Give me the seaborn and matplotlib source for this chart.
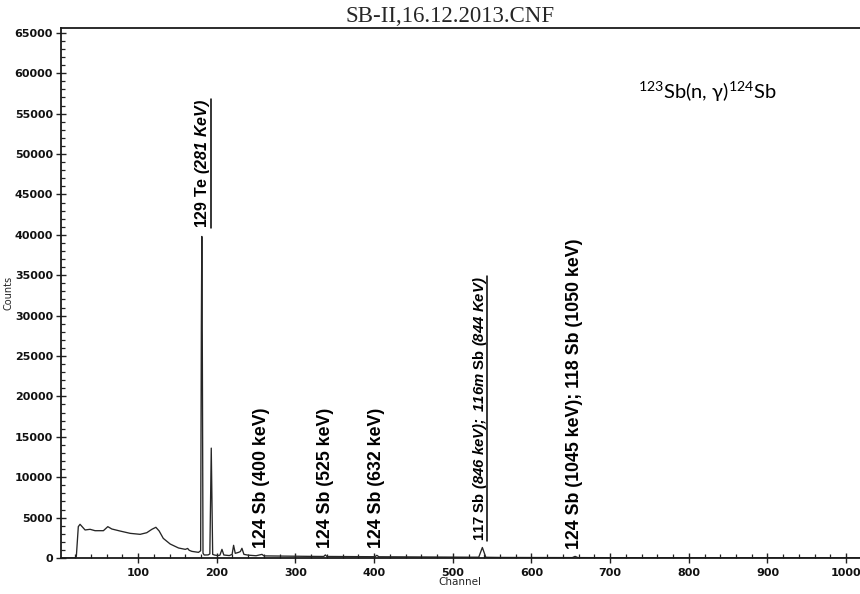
import numpy as np
import pandas as pd
import seaborn as sns
import matplotlib.pyplot as plt
from matplotlib.lines import Line2D
from matplotlib.ticker import MultipleLocator

# gamma spectrum
channel = [2, 20, 21.5, 24, 26.2, 29.6, 32.6, 39, 45.3, 55.9, 61.5, 66.6, 77, 90,
           102.6, 111, 117.5, 122.6, 126.8, 132, 140.8, 151.4, 160, 163, 165, 168.4,
           176.8, 179.5, 180.4, 181, 181.6, 182.5, 184, 189, 191.2, 193, 194.8, 197,
           201, 204, 206.6, 209, 216, 219.5, 221.4, 223.5, 227.8, 230, 232, 234.5,
           240, 250, 257.5, 260, 280, 300, 320, 336, 338, 340, 360, 380, 401, 403.5,
           406, 440, 480, 520, 533, 537.6, 542, 560, 600, 652, 655.5, 659, 700, 800,
           900, 1000, 1024]
counts = [0, 0, 200, 3880, 4170, 3800, 3470, 3550, 3380, 3380, 3880, 3590, 3340, 3050,
          2930, 3130, 3550, 3800, 3340, 2430, 1730, 1240, 1070, 1180, 950, 820,
          700, 900, 28500, 39800, 27500, 600, 370, 380, 500, 13600, 450, 370,
          300, 350, 1070, 370, 300, 450, 1570, 580, 700, 800, 1200, 450,
          350, 280, 450, 260, 240, 220, 200, 190, 380, 190, 180, 170, 160, 330,
          155, 140, 120, 100, 100, 1300, 90, 70, 60, 50, 200, 50, 40, 30,
          25, 20, 20]

# peak labels (text, channel of the label, counts at the foot of the label)
peak_labels = [r"129 Te $\mathit{(281\ KeV)}$",
               "124 Sb (400 keV)",
               "124 Sb (525 keV)",
               "124 Sb (632 keV)",
               r"117 Sb $\mathit{(846\ keV);\ 116m}$ Sb $\mathit{(844\ KeV)}$",
               "124 Sb (1045 keV); 118 Sb (1050 keV)"]
label_channel = [182, 257.5, 337.6, 403.3, 534.6, 655.3]
label_counts = [40900, 1240, 1200, 1200, 2140, 1080]
label_underlined = [True, False, False, False, True, False]
label_size = [11.5, 12.8, 12.8, 12.8, 10.7, 12.8]

df = pd.DataFrame({"Channel": channel, "Counts": counts})

sns.set_style("ticks")
plt.rcParams['font.family'] = ['DejaVu Sans']
plt.rcParams['mathtext.fontset'] = 'custom'
plt.rcParams['mathtext.it'] = 'Liberation Sans:italic:bold'
plt.rcParams['mathtext.rm'] = 'Liberation Sans:italic:bold'
plt.rcParams['mathtext.default'] = 'regular'

fig = plt.figure(figsize=(8.6, 5.94), dpi=100)
ax = fig.add_axes([61/860, 36/594, 804/860, 530/594])

sns.lineplot(data=df, x="Channel", y="Counts", ax=ax, color="#262626",
             linewidth=0.95, estimator=None)

ax.set_xlim(2, 1024)
ax.set_ylim(0, 65600)
ax.xaxis.set_major_locator(MultipleLocator(100))
ax.xaxis.set_minor_locator(MultipleLocator(20))
ax.yaxis.set_major_locator(MultipleLocator(5000))
ax.yaxis.set_minor_locator(MultipleLocator(1000))
ax.set_xticks([t for t in range(100, 1001, 100)])

ax.tick_params(which='major', direction='inout', length=6.5, width=1, color='#222222')
ax.tick_params(axis='y', which='major', pad=2.5)
ax.tick_params(axis='x', which='major', pad=4)
ax.tick_params(which='minor', direction='in', length=3, width=0.9, color='#222222')
for lab in ax.get_xticklabels() + ax.get_yticklabels():
    lab.set_fontsize(8)
    lab.set_fontweight('bold')
    lab.set_color('#111111')

for side in ['top', 'left', 'bottom']:
    ax.spines[side].set_linewidth(1.3)
    ax.spines[side].set_color('#1a1a1a')
ax.spines['right'].set_visible(False)

ax.set_xlabel("Channel", fontsize=7.5)
ax.set_ylabel("Counts", fontsize=7)
ax.xaxis.set_label_coords(0.4956, -0.036)
ax.yaxis.set_label_coords(-0.0585, 0.5)

fig.text(450.5/860, 0.9635, "SB-II,16.12.2013.CNF", family='Liberation Serif',
         fontsize=16.5, ha='center', va='baseline')

texts = []
for txt, ch, ct, ul, size in zip(peak_labels, label_channel, label_counts,
                                 label_underlined, label_size):
    t = ax.text(ch, ct, txt, rotation=90, ha='center', va='bottom',
                family='Liberation Sans', fontweight='bold', fontsize=size, color='black')
    texts.append((t, ul))

ax.text(736, 56800, r"$^{123}$Sb(n, γ)$^{124}$Sb", family=['Lato', 'DejaVu Sans'],
        fontsize=14.5, ha='left', va='baseline', color='black')

# underline the italic labels
fig.canvas.draw()
inv = fig.transFigure.inverted()
for t, ul in texts:
    if not ul:
        continue
    bb = t.get_window_extent()
    (x0, y0), (x1, y1) = inv.transform([(bb.x1 - 1.5, bb.y0), (bb.x1 - 1.5, bb.y1)])
    fig.add_artist(Line2D([x0, x1], [y0, y1], color='black', linewidth=1.1))

fig.savefig("out.png", dpi=100)
